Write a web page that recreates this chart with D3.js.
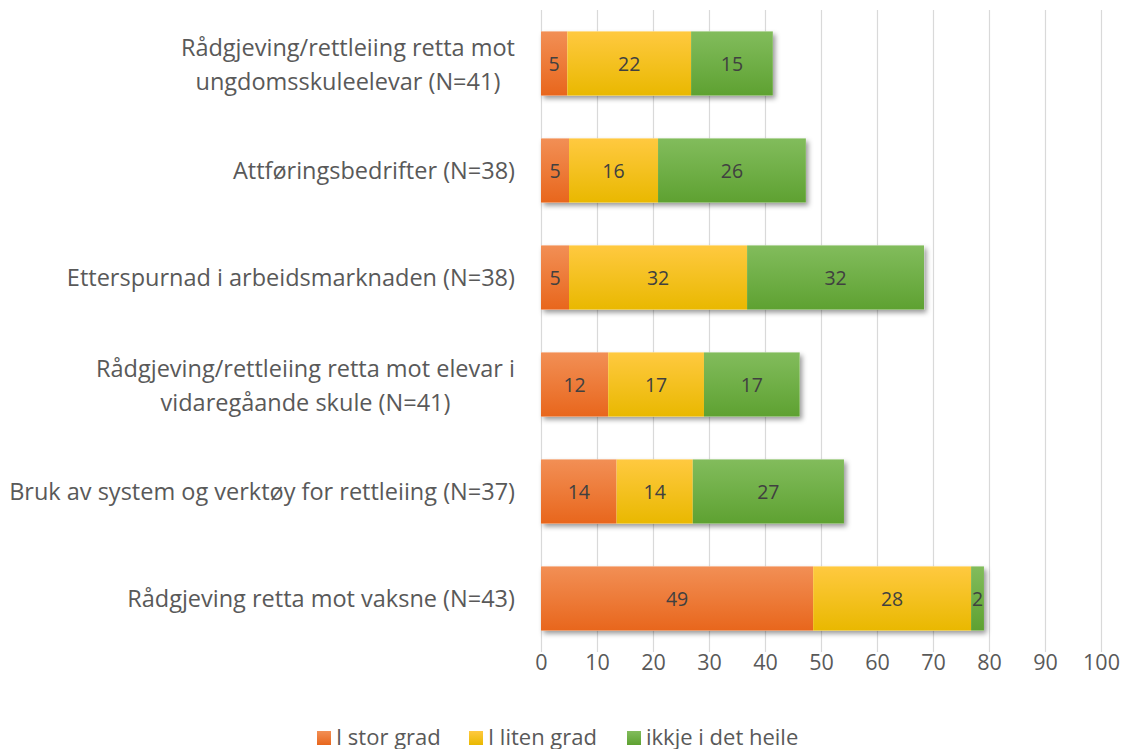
<!DOCTYPE html>
<html><head><meta charset="utf-8">
<script src="https://cdn.jsdelivr.net/npm/d3@7"></script>
<style>
body{margin:0;background:#fff;}
svg{display:block;font-family:"Open Sans",sans-serif;}
</style></head>
<body><svg id="chart" width="1127" height="749"></svg>
<script>
const categories = [
  ["Rådgjeving/rettleiing retta mot","ungdomsskuleelevar (N=41)"],
  ["Attføringsbedrifter (N=38)"],
  ["Etterspurnad i arbeidsmarknaden (N=38)"],
  ["Rådgjeving/rettleiing retta mot elevar i","vidaregåande skule (N=41)"],
  ["Bruk av system og verktøy for rettleiing (N=37)"],
  ["Rådgjeving retta mot vaksne (N=43)"]
];
const seriesNames = ["I stor grad","I liten grad","ikkje i det heile"];
const stor   = [4.7, 5.0, 5.0, 12.0, 13.5, 48.6];
const liten  = [22.1, 15.9, 31.8, 17.1, 13.6, 28.2];
const ikkje  = [14.6, 26.4, 31.6, 17.1, 27.0, 2.3];
const xTicks = [0,10,20,30,40,50,60,70,80,90,100];

(function(){
const svg = d3.select("#chart");
const pL = 541, pR = 1101, pT = 10, pB = 652;
const FONT = "'Open Sans',sans-serif";
const x = d3.scaleLinear().domain([0,100]).range([pL,pR]);
const y = d3.scaleBand().domain(d3.range(categories.length)).range([pT,pB]).paddingInner(0.4).paddingOuter(0.2);

const defs = svg.append("defs");
const colors = [["#F28F55","#E8661C"],["#FFC940","#E9B800"],["#82BC5C","#5EA131"]];
colors.forEach((c,i)=>{
  const g = defs.append("linearGradient").attr("id","g"+i).attr("x1",0).attr("y1",0).attr("x2",0).attr("y2",1);
  g.append("stop").attr("offset","0%").attr("stop-color",c[0]);
  g.append("stop").attr("offset","50%").attr("stop-color",d3.interpolateRgb(c[0],c[1])(0.5));
  g.append("stop").attr("offset","100%").attr("stop-color",c[1]);
});
const f = defs.append("filter").attr("id","sh").attr("x","-10%").attr("y","-20%").attr("width","130%").attr("height","160%");
f.append("feDropShadow").attr("dx",2.5).attr("dy",3).attr("stdDeviation",2.5).attr("flood-color","#000").attr("flood-opacity",0.4);

svg.append("g").selectAll("line").data(xTicks).join("line")
  .attr("x1",d=>x(d)+0.5).attr("x2",d=>x(d)+0.5).attr("y1",pT).attr("y2",pB)
  .attr("stroke","#D9D9D9").attr("stroke-width",1.2);

const xAxis = d3.axisBottom(x).tickValues(xTicks).tickSize(0).tickPadding(0);
const ax = svg.append("g").attr("transform",`translate(0,${pB})`).call(xAxis);
ax.select(".domain").remove();
ax.selectAll("text").attr("dy",0).attr("y",18).attr("font-size",21.5).attr("fill","#595959").attr("font-family",FONT);

const rows = categories.map((c,i)=>({i, vals:[stor[i],liten[i],ikkje[i]]}));
const stack = d3.stack().keys([0,1,2]).value((d,k)=>d.vals[k])(rows);

const barG = svg.append("g");
rows.forEach((r,i)=>{
  const total = d3.sum(r.vals);
  barG.append("rect").attr("x",x(0)).attr("y",y(i)).attr("width",x(total)-x(0)).attr("height",y.bandwidth())
    .attr("fill","#fff").attr("filter","url(#sh)");
});
stack.forEach((s,k)=>{
  barG.append("g").selectAll("rect").data(s).join("rect")
    .attr("x",d=>x(d[0])).attr("y",(d,i)=>y(i))
    .attr("width",d=>x(d[1])-x(d[0])).attr("height",y.bandwidth())
    .attr("fill",`url(#g${k})`);
  barG.append("g").selectAll("text").data(s).join("text")
    .attr("x",d=>(x(d[0])+x(d[1]))/2).attr("y",(d,i)=>y(i)+y.bandwidth()/2)
    .attr("dy","0.36em").attr("text-anchor","middle").attr("font-size",19.5).attr("fill","#404040")
    .text(d=>Math.round(d[1]-d[0]));
});

const labelRight = 515;
categories.forEach((lines,i)=>{
  const g = svg.append("g");
  const cy = y(i)+y.bandwidth()/2 + (lines.length>1?1:0);
  const lh = 34;
  const texts = lines.map((ln,j)=>g.append("text").attr("font-size",23.5).attr("fill","#595959")
      .attr("y",cy + (j-(lines.length-1)/2)*lh).attr("dy","0.36em").text(ln));
  const maxW = d3.max(texts,t=>t.node().getComputedTextLength());
  texts.forEach(t=>t.attr("text-anchor","middle").attr("x",labelRight-maxW/2));
});

const legend = svg.append("g");
const lx = [317,469,627];
seriesNames.forEach((n,k)=>{
  legend.append("rect").attr("x",lx[k]).attr("y",731).attr("width",14).attr("height",14).attr("fill",`url(#g${k})`);
  legend.append("text").attr("x",lx[k]+19).attr("y",737).attr("dy","0.36em").attr("font-size",22).attr("fill","#595959").text(n);
});
})();
</script></body></html>
